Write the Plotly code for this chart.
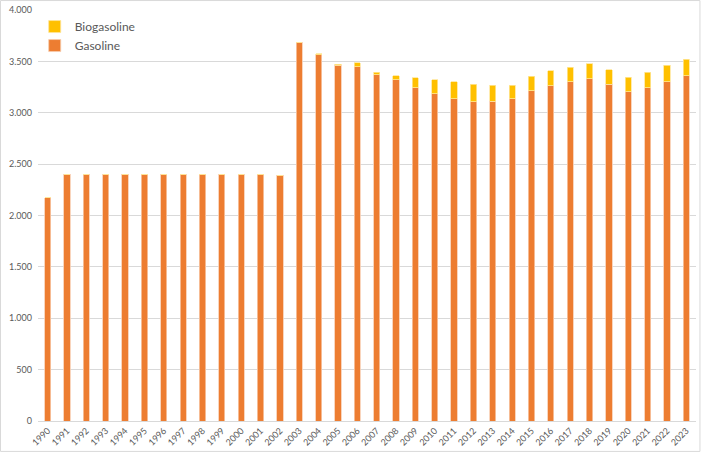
import plotly.graph_objects as go

years = [str(y) for y in range(1990, 2024)]

gasoline = [2175, 2400, 2400, 2400, 2400, 2400, 2400, 2400, 2400, 2400,
            2400, 2400, 2390, 3684, 3563, 3460, 3450, 3369, 3320, 3243,
            3184, 3138, 3105, 3113, 3138, 3216, 3265, 3304, 3333, 3278,
            3203, 3245, 3304, 3362]
biogasoline = [0, 0, 0, 0, 0, 0, 0, 0, 0, 0,
               0, 0, 0, 0, 10, 14, 36, 26, 40, 97,
               136, 166, 174, 155, 130, 137, 143, 140, 146, 140,
               143, 150, 156, 160]

y_ticks = [0, 500, 1000, 1500, 2000, 2500, 3000, 3500, 4000]

orange = "#ED7D31"
yellow = "#FFC000"
grey_text = "#595959"
grid = "#D9D9D9"

fig = go.Figure()
fig.add_trace(go.Bar(x=years, y=gasoline, name="Gasoline",
                     marker=dict(color=orange, line=dict(color="#F8CBAD", width=0.8))))
fig.add_trace(go.Bar(x=years, y=biogasoline, name="Biogasoline",
                     marker=dict(color=yellow, line=dict(color="#FFE699", width=0.8))))

fig.update_layout(
    width=701, height=453,
    barmode="stack", bargap=0.68,
    separators=",.",
    plot_bgcolor="white", paper_bgcolor="white",
    margin=dict(l=38, r=5, t=10, b=32),
    font=dict(family="Lato", color=grey_text, size=9),
    legend=dict(x=-0.005, y=0.995, xanchor="left", yanchor="top",
                traceorder="reversed", font=dict(size=12, color=grey_text),
                bgcolor="rgba(0,0,0,0)", itemwidth=30),
    showlegend=True,
)
fig.update_xaxes(type="category", tickangle=-45, showgrid=False,
                 showline=True, linecolor=grid, linewidth=1,
                 ticks="", tickfont=dict(size=9, color=grey_text))
fig.update_yaxes(range=[0, 4000], tickvals=y_ticks, tickformat=",d",
                 showgrid=True, gridcolor=grid, gridwidth=1,
                 zeroline=False, showline=False, ticks="",
                 ticklabelstandoff=5,
                 tickfont=dict(size=9, color=grey_text))

# outer chart border
fig.add_shape(type="rect", xref="paper", yref="paper",
              x0=-0.057, x1=1.006, y0=-0.074, y1=1.023,
              line=dict(color="#D9D9D9", width=1))

fig.write_html("out.html", config={"displayModeBar": False},
               post_script="document.body.style.margin='0';")
